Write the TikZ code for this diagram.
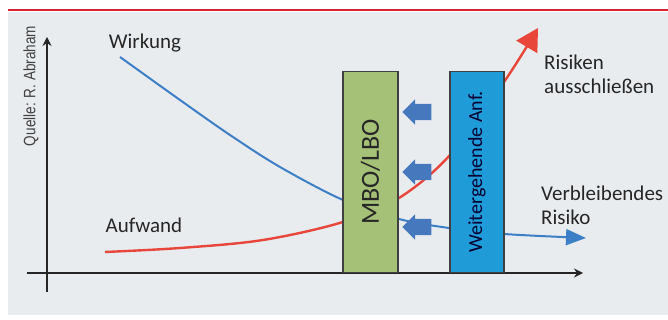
\documentclass[tikz,border=0pt]{standalone}
\usepackage{fontspec}
\setmainfont{Carlito}
\newfontfamily\narrowsans[FakeStretch=0.82]{Liberation Sans}
\usepackage{tikz}
\usetikzlibrary{positioning,arrows.meta,shapes.arrows}
\definecolor{panelbg}{HTML}{E9ECEF}
\definecolor{rulered}{HTML}{D62435}
\definecolor{costred}{HTML}{E8463B}
\definecolor{effblue}{HTML}{3D7FC6}
\definecolor{mbogreen}{HTML}{A5C077}
\definecolor{anfblue}{HTML}{1F9CD7}
\definecolor{pushblue}{HTML}{4678BE}
\definecolor{labelgray}{HTML}{262626}

\begin{document}
\begin{tikzpicture}[x=1pt,y=1pt,font=\fontsize{21}{24}\selectfont,>={Stealth[]},
  bar/.style={draw=black!75,line width=1.3pt,rotate=90,anchor=west,minimum width=201pt,minimum height=55pt,inner sep=0pt},
  push/.style={single arrow,shape border rotate=180,fill=pushblue,minimum width=25pt,minimum height=29pt,single arrow head extend=4.5pt,inner xsep=2pt,inner ysep=8pt},
  lbl/.style={text=labelgray,align=left,inner sep=0pt}]
\useasboundingbox (0,0) rectangle (668,320);
\fill[panelbg] (8,5) rectangle (668,308);
\draw[rulered,line width=2.5pt] (8,310) -- (668,310);
% axes
\coordinate (ybot) at (47,28);
\coordinate (ytop) at (47,283);
\coordinate (xl) at (27,47);
\coordinate (xr) at (583,47);
\draw[line width=1.8pt,black!85,-{Stealth[length=9pt,width=9pt]}] (ybot) -- (ytop);
\draw[line width=1.8pt,black!85,-{Stealth[length=9pt,width=9pt]}] (xl) -- (xr);
% curves
\coordinate (wstart) at (120,263);
\coordinate (wend) at (586,82);
\coordinate (astart) at (105,68);
\coordinate (aend) at (538,292);
\draw[effblue,line width=2pt,-{Triangle[length=20pt,width=16pt]}]
  plot[smooth,tension=0.55] coordinates {(wstart) (180,220) (230,185) (280,153) (343,120) (399,101) (449,92) (504,86) (wend)};
\draw[costred,line width=2.4pt,-{Triangle[length=22pt,width=24pt]}]
  plot[smooth,tension=0.55] coordinates {(astart) (180,72) (263,80) (343,98) (399,122) (450,165) (504,238) (aend)};
% boxes
\node[bar,fill=mbogreen,font=\fontsize{26}{30}\selectfont,text=black!85] (mbo) at (370.5,47) {MBO/LBO};
\node[bar,fill=anfblue,font=\fontsize{20}{24}\selectfont,text=black!80!blue,minimum height=54pt] (anf) at (477,47) {Weitergehende Anf.};
\foreach \i/\y in {1/208,2/148,3/93}
  \node[push] (push\i) at (421,\y) {};
% labels
\node[lbl] (wirkung) at (145,277) {Wirkung};
\node[lbl] (aufwand) at (144,95) {Aufwand};
\node[lbl,anchor=west] (risiken) at (544,246) {Risiken\\ausschließen};
\node[lbl,anchor=west] (rest) at (541,115) {Verbleibendes\\Risiko};
\node[lbl,rotate=90,text=black!75,font=\narrowsans\fontsize{16.5}{19}\selectfont] (quelle) at (31,234) {Quelle: R. Abraham};
\end{tikzpicture}
\end{document}
